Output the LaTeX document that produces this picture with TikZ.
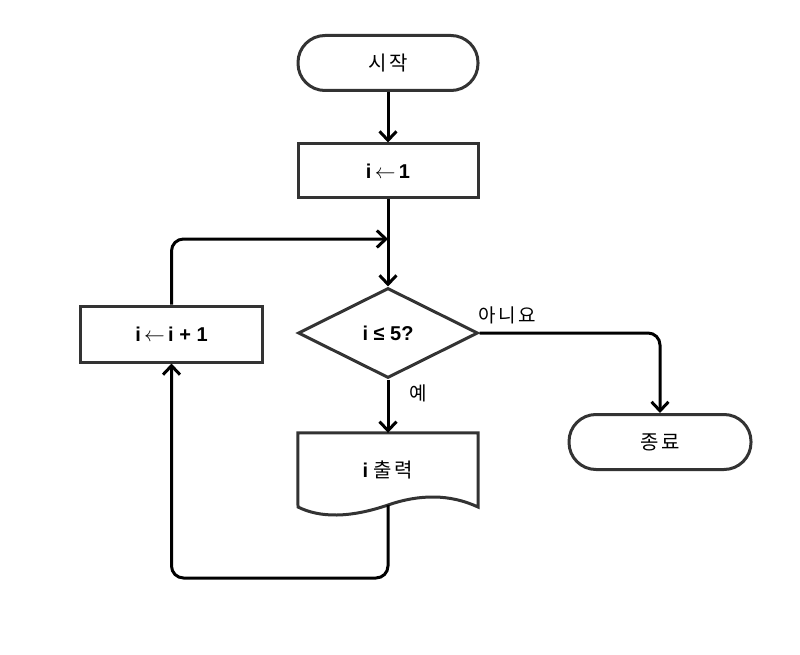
\documentclass[tikz,border=0pt]{standalone}
\usepackage{fontspec}
\setmainfont{Liberation Sans}
\newfontfamily\kr[LetterSpace=14]{Noto Sans CJK KR}
\usetikzlibrary{arrows.meta,shapes.geometric}
\definecolor{edge}{HTML}{333333}
\newcommand{\larr}{\ensuremath{\leftarrow}}
\begin{document}
\begin{tikzpicture}[x=1pt,y=-1pt,
  every node/.style={font=\fontsize{20}{24}\selectfont},
  term/.style={draw=edge,line width=3pt,rounded corners=27pt,minimum width=180pt,minimum height=55pt,inner sep=0pt},
  procbox/.style={draw=edge,line width=3pt,minimum width=180pt,minimum height=54pt,inner sep=0pt},
  decide/.style={draw=edge,line width=3pt,diamond,aspect=2,minimum width=180pt,minimum height=90pt,inner sep=0pt},
  conn/.style={draw=black,line width=3pt,rounded corners=12pt,-{Straight Barb[length=9pt,width=17pt,line width=3pt]}},
  lbl/.style={font=\fontsize{19}{22}\selectfont\kr}
]
\useasboundingbox (0,0) rectangle (800,655);
\node[term] (start) at (388,63) {\kr 시작};
\node[procbox] (init) at (388,171) {\bfseries i\,\larr\,1};
\node[decide] (cond) at (388,333) {\bfseries i ≤ 5?};
\node[procbox, minimum width=182pt, minimum height=56pt] (inc) at (171.5,334) {\bfseries i\,\larr\,i + 1};
\node[term, minimum width=182pt] (stop) at (660,442) {\kr 종료};
\node[minimum width=180pt,minimum height=74pt,inner sep=0pt] (out) at (388,470) {\bfseries i {\mdseries\kr 출력}};
\draw[edge,line width=3pt,line join=miter] (out.north west) -- (out.north east) -- (478,507)
  .. controls (450,494) and (420,494) .. (388,505)
  .. controls (350,518) and (320,518) .. (298,507) -- cycle;
\coordinate (outb) at (388,505);
\coordinate (merge) at (388,239);
\node[lbl] (no) at (507,315) {아니요};
\node[lbl] (yes) at (418,393) {예};
\draw[conn] (start) -- (init);
\draw[conn] (init) -- (cond);
\draw[conn] (inc.north) |- (merge);
\draw[conn] (cond.east) -| (stop.north);
\draw[conn] (cond.south) -- (out.north);
\draw[conn] (outb) -- (388,578) -| (inc.south);
\end{tikzpicture}
\end{document}
